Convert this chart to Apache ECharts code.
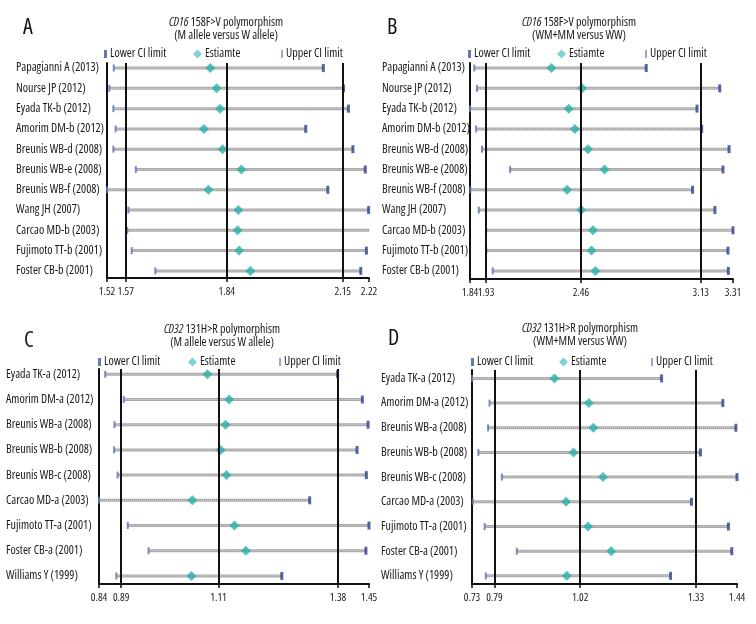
<!DOCTYPE html>
<html>
<head>
<meta charset="utf-8">
<script src="https://cdn.jsdelivr.net/npm/echarts@6/dist/echarts.min.js"></script>
<style>
html,body{margin:0;padding:0;background:#fff;}
#c{width:756px;height:624px;}
</style>
</head>
<body>
<div id="c"></div>
<script>
// ---------- DATA ----------
const catsAB = ['Papagianni A (2013)','Nourse JP (2012)','Eyada TK-b (2012)','Amorim DM-b (2012)','Breunis WB-d (2008)','Breunis WB-e (2008)','Breunis WB-f (2008)','Wang JH (2007)','Carcao MD-b (2003)','Fujimoto TT-b (2001)','Foster CB-b (2001)'];
const catsCD = ['Eyada TK-a (2012)','Amorim DM-a (2012)','Breunis WB-a (2008)','Breunis WB-b (2008)','Breunis WB-c (2008)','Carcao MD-a (2003)','Fujimoto TT-a (2001)','Foster CB-a (2001)','Williams Y (1999)'];

const lowerA = [1.538,1.526,1.537,1.543,1.537,1.597,1.520,1.577,1.574,1.586,1.649];
const estA   = [1.796,1.813,1.822,1.779,1.829,1.879,1.791,1.871,1.869,1.873,1.903];
const upperA = [2.098,2.152,2.165,2.051,2.177,2.210,2.110,2.219,2.221,2.213,2.198];
const ticksA = [1.52,1.57,1.84,2.15,2.22];

const lowerB = [1.864,1.879,1.840,1.874,1.907,2.064,1.842,1.889,1.930,1.931,1.967];
const estB   = [2.295,2.467,2.392,2.426,2.500,2.592,2.383,2.461,2.527,2.519,2.541];
const upperB = [2.825,3.236,3.109,3.135,3.288,3.254,3.084,3.209,3.310,3.282,3.284];
const ticksB = [1.84,1.93,2.46,3.13,3.31];

const lowerC = [0.854,0.896,0.875,0.874,0.882,0.840,0.905,0.952,0.879];
const estC   = [1.085,1.134,1.126,1.115,1.128,1.051,1.146,1.172,1.049];
const upperC = [1.379,1.435,1.448,1.423,1.444,1.316,1.450,1.443,1.253];
const ticksC = [0.84,0.89,1.11,1.38,1.45];

const lowerD = [0.730,0.777,0.773,0.747,0.810,0.732,0.764,0.850,0.767];
const estD   = [0.951,1.043,1.055,1.002,1.081,0.982,1.041,1.103,0.984];
const upperD = [1.238,1.402,1.437,1.342,1.440,1.318,1.417,1.426,1.262];
const ticksD = [0.73,0.79,1.02,1.33,1.44];

const titleLine1 = ['CD16|158F>V polymorphism','CD16|158F>V polymorphism','CD32|131H>R polymorphism','CD32|131H>R polymorphism'];
const titleLine2 = ['(M allele versus W allele)','(WM+MM versus WW)','(M allele versus W allele)','(WM+MM versus WW)'];
const letters = ['A','B','C','D'];
const legendNames = ['Lower CI limit','Estiamte','Upper CI limit'];

// ---------- LAYOUT ----------
const FONT = "'Open Sans','Roboto Condensed',sans-serif";
const FS = 'condensed';          // font-stretch keyword placed in the font shorthand
const FSI = 'italic condensed';
const panels = [
  {cats:catsAB, lo:lowerA, es:estA, up:upperA, ticks:ticksA, grid:{left:107,width:262,top:63,height:215}, ymin:-0.25, ymax:10.35, labelX:16,
   title:{x:226,y:16}, letter:{x:18,y:12}, legend:{y:48, xs:[104,193,281]}},
  {cats:catsAB, lo:lowerB, es:estB, up:upperB, ticks:ticksB, grid:{left:470,width:263,top:63,height:216}, ymin:-0.25, ymax:10.4, labelX:382,
   title:{x:579,y:16}, letter:{x:382,y:12}, legend:{y:48, xs:[468,557,645]}},
  {cats:catsCD, lo:lowerC, es:estC, up:upperC, ticks:ticksC, grid:{left:99,width:270,top:369,height:215}, ymin:-0.21, ymax:8.32, labelX:6,
   title:{x:222,y:323}, letter:{x:19,y:325}, legend:{y:356, xs:[98,188,279]}},
  {cats:catsCD, lo:lowerD, es:estD, up:upperD, ticks:ticksD, grid:{left:472,width:265,top:370,height:214}, ymin:-0.34, ymax:8.33, labelX:381,
   title:{x:580,y:322}, letter:{x:383,y:323}, legend:{y:356, xs:[471,559,651]}}
];

const grids=[], xAxes=[], yAxes=[], series=[], titles=[], legends=[];
const legendIcon = [
  {icon:'rect', w:3, h:8, color:'#3f55a8'},
  {icon:'diamond', w:9, h:9, color:'#62c4d0'},
  {icon:'rect', w:2, h:8, color:'#8592c8'}
];
const xLabelStyle = {margin:8, fontSize:11, color:'#1a1a1a', fontFamily:FONT, fontStyle:FS,
  showMinLabel:true, showMaxLabel:true, hideOverlap:false, formatter:v => v.toFixed(2)};

panels.forEach((p, k) => {
  grids.push({left:p.grid.left, top:p.grid.top, width:p.grid.width, height:p.grid.height, containLabel:false});
  const xmin = p.ticks[0], xmax = p.ticks[p.ticks.length-1];
  // main x axis: line, ticks, and all labels except the second one (too close to the first)
  xAxes.push({
    type:'value', gridIndex:k, position:'bottom', min:xmin, max:xmax,
    axisLine:{show:true, onZero:false, lineStyle:{color:'#111', width:2}},
    axisTick:{show:true, customValues:p.ticks, length:4, lineStyle:{color:'#111', width:1.5}},
    axisLabel:Object.assign({show:true, customValues:p.ticks.filter((t,i)=>i!==1)}, xLabelStyle),
    splitLine:{show:false}
  });
  const cats = p.cats;
  yAxes.push({
    type:'value', gridIndex:k, inverse:true, min:p.ymin, max:p.ymax,
    axisLine:{show:true, onZero:false, lineStyle:{color:'#111', width:2}},
    axisTick:{show:false},
    splitLine:{show:false},
    axisLabel:{show:true, customValues:cats.map((c,i)=>i), align:'left', margin:p.grid.left-p.labelX,
      fontSize:12, color:'#1a1a1a', fontFamily:FONT, fontStyle:FS, formatter:v => cats[Math.round(v)] || ''}
  });
  series.push({
    type:'custom', name:'CI'+k, xAxisIndex:k, yAxisIndex:k, silent:true,
    data:p.cats.map((c,i)=>[p.lo[i], p.up[i], i]),
    renderItem:(params, api) => {
      const a = api.coord([api.value(0), api.value(2)]);
      const b = api.coord([api.value(1), api.value(2)]);
      return {type:'group', children:[
        {type:'line', shape:{x1:a[0],y1:a[1],x2:b[0],y2:b[1]}, style:{stroke:'#a9a9a9', lineWidth:3}},
        {type:'line', shape:{x1:a[0],y1:a[1],x2:b[0],y2:b[1]}, style:{stroke:'#d8d8d8', lineWidth:1, lineDash:[1,1]}}
      ]};
    },
    markLine:{silent:true, symbol:'none', animation:false, label:{show:false},
      lineStyle:{color:'#111', width:2, type:'solid'},
      data:p.ticks.slice(1, p.ticks.length-1).map(v => ({xAxis:v}))},
    z:1
  });
  series.push({type:'scatter', name:legendNames[0], xAxisIndex:k, yAxisIndex:k, symbol:'rect', symbolSize:[2,7],
    itemStyle:{color:'#5d6fb6'}, data:p.cats.map((c,i)=>[p.lo[i], i]), z:3});
  series.push({type:'scatter', name:legendNames[2], xAxisIndex:k, yAxisIndex:k, symbol:'rect', symbolSize:[3,8],
    itemStyle:{color:'#2e3f8e'}, data:p.cats.map((c,i)=>[p.up[i], i]), z:3});
  series.push({type:'scatter', name:legendNames[1], xAxisIndex:k, yAxisIndex:k, symbol:'diamond', symbolSize:[10,10],
    itemStyle:{color:'#2aafa7'}, data:p.cats.map((c,i)=>[p.es[i], i]), z:4});

  const parts = titleLine1[k].split('|');
  titles.push({
    text:'{i|'+parts[0]+'} '+parts[1]+'\n'+titleLine2[k],
    left:p.title.x, top:p.title.y, textAlign:'center', padding:0,
    textStyle:{fontSize:12, fontWeight:'normal', fontStyle:FS, color:'#1a1a1a', fontFamily:FONT, lineHeight:13,
      rich:{i:{fontStyle:FSI, fontSize:12, color:'#1a1a1a', fontFamily:FONT, lineHeight:13}}}
  });
  titles.push({text:letters[k], left:p.letter.x, top:p.letter.y,
    textStyle:{fontSize:22, fontWeight:'normal', fontStyle:FS, color:'#111', fontFamily:FONT}});
  legendNames.forEach((n, j) => {
    const ic = legendIcon[j];
    legends.push({
      left:p.legend.xs[j], top:p.legend.y, orient:'horizontal', selectedMode:false,
      itemWidth:ic.w, itemHeight:ic.h, itemGap:0, padding:0,
      textStyle:{fontSize:12, color:'#1a1a1a', fontFamily:FONT, fontStyle:FS, padding:[0,0,0,-2]},
      data:[{name:n, icon:ic.icon, itemStyle:{color:ic.color}}]
    });
  });
});

// secondary bottom x axes carrying only the second tick label of each panel
panels.forEach((p, k) => {
  xAxes.push({
    type:'value', gridIndex:k, position:'bottom', min:p.ticks[0], max:p.ticks[p.ticks.length-1],
    axisLine:{show:false, onZero:false}, axisTick:{show:false}, splitLine:{show:false},
    axisLabel:Object.assign({show:true, customValues:[p.ticks[1]]}, xLabelStyle, {showMinLabel:null, showMaxLabel:null})
  });
});

const chart = echarts.init(document.getElementById('c'), null, {renderer:'canvas'});
chart.setOption({
  backgroundColor:'#ffffff',
  animation:false,
  title:titles,
  legend:legends,
  grid:grids,
  xAxis:xAxes,
  yAxis:yAxes,
  series:series
});
</script>
</body>
</html>
